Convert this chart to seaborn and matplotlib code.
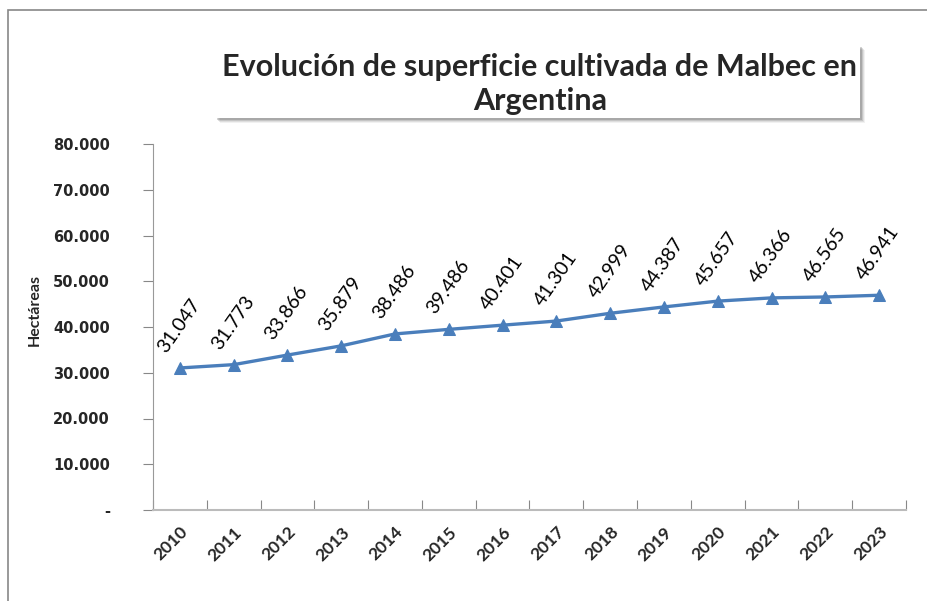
import numpy as np
import pandas as pd
import matplotlib
matplotlib.use("Agg")
import matplotlib.pyplot as plt
import matplotlib.transforms as mtransforms
from matplotlib.patches import Rectangle
import seaborn as sns

# datos
anios = ["2010", "2011", "2012", "2013", "2014", "2015", "2016",
         "2017", "2018", "2019", "2020", "2021", "2022", "2023"]
hectareas = [31047, 31773, 33866, 35879, 38486, 39486, 40401,
             41301, 42999, 44387, 45657, 46366, 46565, 46941]
yticks = [0, 10000, 20000, 30000, 40000, 50000, 60000, 70000, 80000]

df = pd.DataFrame({"anio": anios, "ha": hectareas})
df["pos"] = np.arange(len(df))

sns.set_style("white")
plt.rcParams["font.family"] = ["Lato", "DejaVu Sans"]

fig = plt.figure(figsize=(9.28, 6.01), dpi=100)
ax = fig.add_axes([153/928, 1-510/601, (906-153)/928, (510-144)/601])

azul = "#4A7EBB"
sns.lineplot(data=df, x="pos", y="ha", ax=ax, color=azul, lw=2.4,
             marker="^", markersize=8, markeredgecolor=azul)

# etiquetas de datos
for p, v in zip(df["pos"], df["ha"]):
    txt = f"{v:,}".replace(",", ".")
    ax.annotate(txt, (p, v), xytext=(-10, 10), textcoords="offset points",
                rotation=55, rotation_mode="anchor", ha="left", va="baseline",
                fontsize=14, color="black")

ax.set_xlim(-0.5, len(anios) - 0.5)
ax.set_ylim(0, 80000)
ax.set_yticks(yticks)
ax.set_yticklabels(["-" if t == 0 else f"{t:,}".replace(",", ".") for t in yticks],
                   fontsize=10.5, fontweight="bold", family="DejaVu Sans")
ax.set_xticks(df["pos"])
ax.set_xticklabels(anios, rotation=45, ha="right", rotation_mode="anchor",
                   fontsize=12.5, fontweight="bold")
off = mtransforms.ScaledTranslation(-2/72, -4/72, fig.dpi_scale_trans)
for lab in ax.get_xticklabels():
    lab.set_transform(lab.get_transform() + off)
ax.tick_params(axis="x", length=0, pad=10)
ax.tick_params(axis="y", length=7, width=0.8, color="#888888", left=True,
               direction="out", pad=24)
# marcas del eje x entre categorias
ax.set_xticks(np.arange(-0.5, len(anios)), minor=True)
ax.tick_params(axis="x", which="minor", length=7, width=0.8, color="#888888",
               direction="in", bottom=True)
ax.set_xlabel("")
ax.set_ylabel("")

for s in ["top", "right"]:
    ax.spines[s].set_visible(False)
ax.spines["left"].set_color("#999999")
ax.spines["bottom"].set_color("#bbbbbb")
ax.spines["bottom"].set_linewidth(1.5)

fig.text(35/928, 1-310/601, "Hectáreas", rotation=90, ha="center", va="center",
         fontsize=11.5, fontweight="bold")

# caja del titulo con sombra difusa
bx0, bx1, by0, by1 = 215, 860, 45, 118
for k, a in [(5, 0.08), (4, 0.12), (3, 0.18), (2, 0.25)]:
    fig.patches.append(Rectangle(((bx0 + k) / 928, 1 - (by1 + k) / 601),
                                 (bx1 - bx0) / 928, (by1 - by0) / 601,
                                 transform=fig.transFigure, fc="#555555",
                                 ec="none", alpha=a))
fig.patches.append(Rectangle((bx0 / 928, 1 - by1 / 601),
                             (bx1 - bx0) / 928, (by1 - by0) / 601,
                             transform=fig.transFigure, fc="white", ec="none"))
fig.text(540/928, 1-84/601,
         "Evolución de superficie cultivada de Malbec en\nArgentina",
         ha="center", va="center", fontsize=22, fontweight="bold",
         linespacing=1.25)

# marco exterior
fig.patches.append(Rectangle((8/928, -0.05), 1.2, 1.05 - 10/601,
                             transform=fig.transFigure, fill=False,
                             ec="#888888", lw=1.2))

fig.savefig("out.png", dpi=100)
